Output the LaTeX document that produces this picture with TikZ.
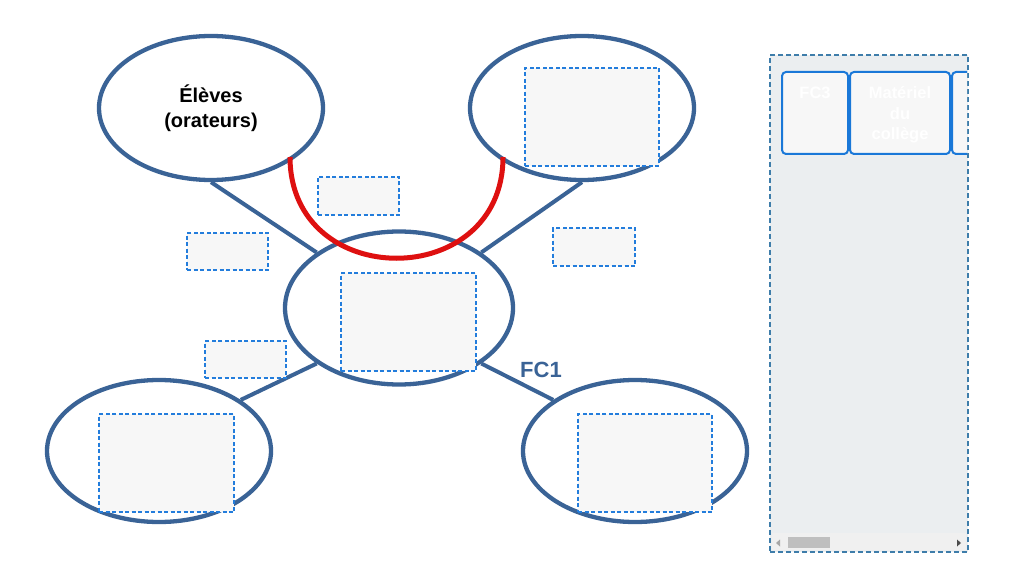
\documentclass[tikz,border=0pt]{standalone}
\usepackage{fontspec}
\setmainfont{Liberation Sans}
\usetikzlibrary{shapes.geometric}
\definecolor{eblue}{RGB}{58,99,150}
\definecolor{dblue}{RGB}{35,125,220}
\definecolor{boxfill}{RGB}{247,247,247}
\definecolor{panelfill}{RGB}{235,238,240}
\definecolor{panelline}{RGB}{62,125,170}
\definecolor{cardline}{RGB}{26,120,216}
\definecolor{redarc}{RGB}{222,16,16}
\tikzset{
  bubble/.style={ellipse, draw=eblue, line width=4.3pt, fill=white, inner sep=0pt},
  slot/.style={draw=dblue, line width=1.4pt, dash pattern=on 4pt off 2.5pt, fill=boxfill, inner sep=0pt, minimum width=#1},
  link/.style={draw=eblue, line width=4pt},
  card/.style={draw=cardline, line width=2pt, rounded corners=4pt, fill=boxfill},
  cardtext/.style={text=white, font=\bfseries\fontsize{16.5}{20.5}\selectfont, align=center, anchor=north},
}
\begin{document}
\begin{tikzpicture}[x=1pt,y=-1pt]
\useasboundingbox (0,0) rectangle (1014,580);
% ellipses
\node[bubble, minimum width=224pt, minimum height=144pt] (tl) at (211,108) {};
\node[bubble, minimum width=224pt, minimum height=144pt] (tr) at (582,108) {};
\node[bubble, minimum width=228pt, minimum height=153pt] (c) at (399,308) {};
\node[bubble, minimum width=224pt, minimum height=142pt] (bl) at (159,451) {};
\node[bubble, minimum width=224pt, minimum height=142pt] (br) at (635,451) {};
% connectors
\draw[link] (tl.south) -- (c.146);
\draw[link] (tr.south) -- (c.34);
\draw[link] (c.214) -- (bl.32);
\draw[link] (c.326) -- (br.148);
% text
\node[font=\bfseries\fontsize{20}{25}\selectfont, align=center] (tlt) at (211,108) {Élèves\\(orateurs)};
\node[font=\bfseries\fontsize{22}{24}\selectfont, text=eblue] (fc1) at (541,370) {FC1};
% dashed slots inside ellipses
\node[slot, minimum width=134pt, minimum height=98pt] (s1) at (592,117) {};
\node[slot, minimum width=135pt, minimum height=98pt] (s2) at (408.5,322) {};
\node[slot, minimum width=135pt, minimum height=98pt] (s3) at (166.5,463) {};
\node[slot, minimum width=134pt, minimum height=98pt] (s4) at (645,463) {};
% small slots
\node[slot, minimum width=81pt, minimum height=38pt] (l1) at (358.5,196) {};
\node[slot, minimum width=81pt, minimum height=37pt] (l2) at (227.5,251.5) {};
\node[slot, minimum width=82pt, minimum height=38pt] (l3) at (594,247) {};
\node[slot, minimum width=81pt, minimum height=37pt] (l4) at (245.5,359.5) {};
% red arc
\coordinate (ra) at (290,157);
\coordinate (rb) at (503,157);
\draw[redarc, line width=5pt] (ra) .. controls (290,292) and (503,292) .. (rb);
% right panel
\node[draw=panelline, line width=1.5pt, dash pattern=on 5pt off 3pt, fill=panelfill, minimum width=198pt, minimum height=497pt, inner sep=0pt] (panel) at (869,303.5) {};
\begin{scope}
\clip (771,56) rectangle (967,551);
\node[card, minimum width=66pt, minimum height=82pt, inner sep=0pt] (k1) at (815,113) {};
\node[card, minimum width=100pt, minimum height=82pt, inner sep=0pt] (k2) at (900,113) {};
\node[card, minimum width=60pt, minimum height=82pt, inner sep=0pt] (k3) at (982,113) {};
\fill[black!6] (772,533) rectangle (966,550);
\fill[black!25] (788,537) rectangle (830,548);
\fill[black!35] (776,543) -- (780,539.5) -- (780,546.5) -- cycle;
\fill[black!70] (961,543) -- (957,539.5) -- (957,546.5) -- cycle;
\end{scope}
\node[cardtext] (k1t) at (815,83) {FC3};
\node[cardtext] (k2t) at (900,83) {Matériel\\du\\collège};
\end{tikzpicture}
\end{document}
